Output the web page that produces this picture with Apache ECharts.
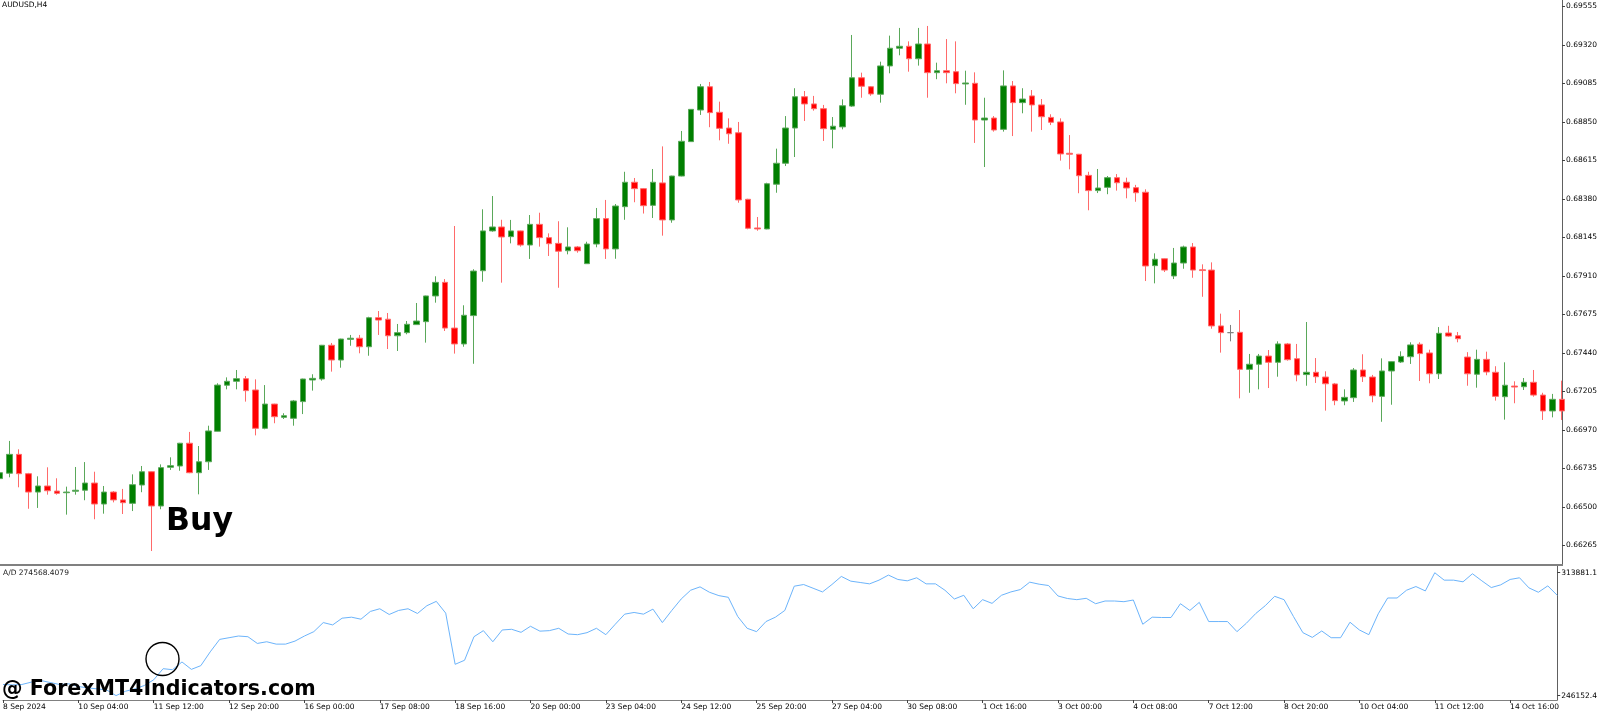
<!DOCTYPE html>
<html>
<head>
<meta charset="utf-8">
<script src="https://cdn.jsdelivr.net/npm/echarts@6/dist/echarts.min.js"></script>
<style>
  html, body { margin: 0; padding: 0; background: #ffffff; }
  #chart { width: 1600px; height: 712px; }
</style>
</head>
<body>
<div id="chart"></div>
<script>
// ---------- DATA (AUDUSD, H4) ----------
const tickLabels = ['8 Sep 2024','10 Sep 04:00','11 Sep 12:00','12 Sep 20:00','16 Sep 00:00','17 Sep 08:00','18 Sep 16:00','20 Sep 00:00','23 Sep 04:00','24 Sep 12:00','25 Sep 20:00','27 Sep 04:00','30 Sep 08:00','1 Oct 16:00','3 Oct 00:00','4 Oct 08:00','7 Oct 12:00','8 Oct 20:00','10 Oct 04:00','11 Oct 12:00','14 Oct 16:00'];

const priceTicks = [0.66265,0.66500,0.66735,0.66970,0.67205,0.67440,0.67675,0.67910,0.68145,0.68380,0.68615,0.68850,0.69085,0.69320,0.69555];
const adTicks = [246152.4, 313881.1];

const opens = [
0.66672,0.66705,0.66820,0.66702,0.66590,0.66627,0.66596,0.66586,0.66595,0.66601,
0.66645,0.66517,0.66590,0.66542,0.66521,0.66633,0.66714,0.66505,0.66741,0.66749,
0.66888,0.66708,0.66775,0.66961,0.67242,0.67266,0.67282,0.67213,0.66979,0.67127,
0.67046,0.67040,0.67142,0.67274,0.67280,0.67486,0.67396,0.67522,0.67529,0.67477,
0.67654,0.67645,0.67544,0.67563,0.67612,0.67630,0.67787,0.67870,0.67591,0.67494,
0.67667,0.67941,0.68184,0.68208,0.68149,0.68184,0.68098,0.68224,0.68143,0.68108,
0.68063,0.68086,0.67984,0.68104,0.68259,0.68074,0.68332,0.68481,0.68442,0.68340,
0.68477,0.68251,0.68519,0.68729,0.68922,0.69064,0.68908,0.68812,0.68783,0.68377,
0.68202,0.68196,0.68469,0.68597,0.68812,0.69003,0.68959,0.68930,0.68804,0.68819,
0.68946,0.69119,0.69064,0.69018,0.69191,0.69299,0.69311,0.69235,0.69325,0.69150,
0.69162,0.69156,0.69081,0.69085,0.68861,0.68873,0.68804,0.69069,0.68967,0.69008,
0.68953,0.68877,0.68849,0.68658,0.68652,0.68523,0.68430,0.68450,0.68509,0.68481,
0.68448,0.68420,0.67972,0.68014,0.67909,0.67988,0.68086,0.67947,0.67945,0.67604,
0.67563,0.67565,0.67339,0.67370,0.67420,0.67382,0.67494,0.67404,0.67307,0.67321,
0.67292,0.67250,0.67146,0.67166,0.67335,0.67292,0.67174,0.67329,0.67384,0.67416,
0.67492,0.67439,0.67312,0.67561,0.67544,0.67414,0.67309,0.67400,0.67321,0.67172,
0.67237,0.67233,0.67260,0.67182,0.67085,0.67156];

const closes = [
0.66708,0.66820,0.66702,0.66590,0.66627,0.66598,0.66582,0.66590,0.66601,0.66645,
0.66517,0.66590,0.66542,0.66525,0.66635,0.66714,0.66505,0.66739,0.66751,0.66888,
0.66708,0.66775,0.66963,0.67243,0.67266,0.67282,0.67209,0.66979,0.67127,0.67050,
0.67056,0.67146,0.67280,0.67284,0.67486,0.67396,0.67524,0.67529,0.67477,0.67654,
0.67640,0.67544,0.67563,0.67614,0.67634,0.67787,0.67870,0.67591,0.67494,0.67669,
0.67939,0.68184,0.68208,0.68147,0.68184,0.68098,0.68224,0.68143,0.68106,0.68060,
0.68086,0.68063,0.68104,0.68259,0.68074,0.68336,0.68481,0.68442,0.68338,0.68481,
0.68251,0.68519,0.68731,0.68926,0.69064,0.68906,0.68810,0.68777,0.68373,0.68200,
0.68196,0.68472,0.68597,0.68812,0.69003,0.68959,0.68930,0.68808,0.68823,0.68948,
0.69119,0.69067,0.69020,0.69191,0.69299,0.69311,0.69235,0.69325,0.69150,0.69162,
0.69150,0.69083,0.69087,0.68861,0.68873,0.68800,0.69069,0.68967,0.68989,0.68953,
0.68881,0.68847,0.68654,0.68652,0.68521,0.68430,0.68446,0.68509,0.68478,0.68446,
0.68417,0.67970,0.68011,0.67945,0.67988,0.68086,0.67945,0.67942,0.67604,0.67563,
0.67563,0.67339,0.67370,0.67420,0.67382,0.67494,0.67398,0.67305,0.67321,0.67294,
0.67251,0.67148,0.67168,0.67335,0.67294,0.67178,0.67329,0.67386,0.67418,0.67488,
0.67435,0.67312,0.67559,0.67542,0.67526,0.67312,0.67400,0.67323,0.67174,0.67242,
0.67231,0.67260,0.67182,0.67085,0.67156,0.67085];

const lows = [
0.66664,0.66680,0.66619,0.66488,0.66493,0.66574,0.66574,0.66452,0.66574,0.66540,
0.66424,0.66458,0.66527,0.66456,0.66474,0.66589,0.66230,0.66485,0.66725,0.66720,
0.66705,0.66576,0.66725,0.66960,0.67217,0.67217,0.67142,0.66936,0.66973,0.67010,
0.67036,0.66995,0.67066,0.67209,0.67270,0.67325,0.67349,0.67483,0.67437,0.67422,
0.67549,0.67463,0.67451,0.67553,0.67610,0.67502,0.67746,0.67573,0.67435,0.67477,
0.67373,0.67874,0.68179,0.67868,0.68108,0.68088,0.68013,0.68088,0.68031,0.67837,
0.68041,0.68051,0.67982,0.68084,0.68013,0.68014,0.68252,0.68359,0.68290,0.68263,
0.68155,0.68234,0.68517,0.68727,0.68892,0.68817,0.68737,0.68716,0.68356,0.68194,
0.68185,0.68194,0.68417,0.68580,0.68635,0.68855,0.68918,0.68733,0.68688,0.68804,
0.68941,0.68997,0.69009,0.68967,0.69146,0.69256,0.69156,0.69193,0.68997,0.69110,
0.69085,0.69024,0.68954,0.68721,0.68574,0.68790,0.68790,0.68763,0.68902,0.68790,
0.68800,0.68830,0.68613,0.68560,0.68414,0.68310,0.68415,0.68408,0.68430,0.68383,
0.68362,0.67878,0.67864,0.67933,0.67890,0.67953,0.67898,0.67782,0.67587,0.67441,
0.67510,0.67162,0.67196,0.67217,0.67225,0.67294,0.67392,0.67266,0.67239,0.67256,
0.67087,0.67120,0.67120,0.67140,0.67262,0.67138,0.67019,0.67123,0.67378,0.67372,
0.67268,0.67254,0.67280,0.67538,0.67504,0.67239,0.67227,0.67303,0.67148,0.67032,
0.67132,0.67213,0.67172,0.67030,0.67046,0.67030];

const highs = [
0.66749,0.66902,0.66851,0.66707,0.66686,0.66741,0.66674,0.66623,0.66743,0.66773,
0.66714,0.66627,0.66596,0.66609,0.66698,0.66749,0.66716,0.66759,0.66802,0.66890,
0.66957,0.66871,0.66995,0.67254,0.67290,0.67335,0.67298,0.67278,0.67243,0.67129,
0.67071,0.67152,0.67282,0.67309,0.67488,0.67500,0.67526,0.67549,0.67549,0.67660,
0.67695,0.67683,0.67616,0.67634,0.67744,0.67789,0.67907,0.67890,0.68214,0.67730,
0.67950,0.68316,0.68397,0.68252,0.68251,0.68186,0.68281,0.68295,0.68169,0.68243,
0.68206,0.68092,0.68118,0.68324,0.68373,0.68348,0.68545,0.68507,0.68446,0.68562,
0.68700,0.68521,0.68794,0.68928,0.69081,0.69093,0.68973,0.68871,0.68849,0.68380,
0.68269,0.68478,0.68686,0.68885,0.69055,0.69038,0.69008,0.68953,0.68879,0.68987,
0.69380,0.69150,0.69068,0.69217,0.69376,0.69423,0.69341,0.69423,0.69435,0.69211,
0.69355,0.69341,0.69162,0.69152,0.68997,0.68885,0.69164,0.69099,0.69055,0.69044,
0.68989,0.68896,0.68871,0.68769,0.68654,0.68545,0.68562,0.68519,0.68531,0.68509,
0.68465,0.68438,0.68047,0.68016,0.68080,0.68094,0.68110,0.67980,0.67992,0.67679,
0.67610,0.67701,0.67433,0.67433,0.67457,0.67510,0.67500,0.67494,0.67628,0.67408,
0.67327,0.67256,0.67217,0.67347,0.67431,0.67305,0.67406,0.67388,0.67449,0.67504,
0.67504,0.67459,0.67597,0.67605,0.67567,0.67444,0.67459,0.67447,0.67358,0.67382,
0.67266,0.67286,0.67335,0.67196,0.67189,0.67270];

const adValues = [
252275.9,252090.3,252275.9,253574.8,254502.6,253389.2,252275.9,252647.0,251162.5,250420.3,
249863.6,249306.9,246152.4,248564.7,249863.6,251719.2,254873.7,260997.2,260440.5,264708.4,
260626.1,262667.2,270275.2,277140.9,278068.7,278996.5,278625.4,274914.2,275842.0,274543.1,
274543.1,276213.1,278996.5,281408.8,286418.9,285120.0,288831.2,289387.9,288274.5,292542.4,
294026.9,290872.4,293099.1,294026.9,291429.0,295696.9,298109.2,291614.6,263409.5,265636.2,
278625.4,281965.5,275842.0,282336.6,282707.7,281037.7,284377.8,281687.1,281965.5,283264.4,
280109.9,279738.8,280852.1,283264.4,279738.8,285491.1,291057.9,291985.7,291057.9,293841.3,
286418.9,293099.1,299408.1,304232.7,306088.3,303119.3,301263.7,300335.9,289759.0,283264.4,
281408.8,286975.6,289387.9,293099.1,306459.4,307387.2,305346.0,303304.9,307387.2,311840.6,
309242.8,308500.6,307758.3,309799.5,312582.9,310170.6,309428.4,311098.4,307758.3,307758.3,
304232.7,299408.1,301449.3,294026.9,299037.0,296995.8,301449.3,303304.9,304603.8,308686.1,
307572.8,306830.5,301078.2,299686.5,299037.0,299779.2,296810.3,298294.8,298294.8,297923.6,
298851.4,285491.1,289387.9,289202.3,289202.3,296810.3,293099.1,297552.5,286975.6,286975.6,
286975.6,281408.8,286047.8,291429.0,295696.9,300892.6,299037.0,289759.0,280852.1,278254.3,
281779.9,278068.7,278068.7,286604.5,282336.6,279738.8,291243.5,299964.8,299964.8,304232.7,
306273.8,303861.6,313881.1,309799.5,309799.5,308871.7,313325.1,309428.4,305717.2,307201.6,
310170.6,311098.4,305531.6,303119.3,306645.0,301449.3];

// ---------- BUILD ----------
const categories = opens.map((_, i) => (i % 8 === 0 ? tickLabels[i / 8] : 'bar' + i));
const candleData = opens.map((o, i) => [o, closes[i], lows[i], highs[i]]);

const FONT = 'DejaVu Sans';
const chart = echarts.init(document.getElementById('chart'), null, { renderer: 'canvas' });

chart.setOption({
  animation: false,
  backgroundColor: '#ffffff',
  grid: [
    { left: 0, right: 37, top: 0, height: 564 },
    { left: 0, right: 37, top: 566, height: 134 }
  ],
  xAxis: [
    { type: 'category', gridIndex: 0, data: categories, boundaryGap: false, show: false },
    {
      type: 'category', gridIndex: 1, data: categories, boundaryGap: false,
      axisLine: { show: true, lineStyle: { color: '#808080', width: 1 } },
      axisTick: { show: true, interval: 7, length: 3, lineStyle: { color: '#404040' } },
      axisLabel: {
        interval: 7, align: 'left', margin: 3, color: '#000000',
        fontFamily: FONT, fontSize: 7.5,
        formatter: (v, i) => (i % 8 === 0 ? tickLabels[i / 8] : '')
      },
      splitLine: { show: false }
    }
  ],
  yAxis: [
    {
      type: 'value', gridIndex: 0, position: 'right',
      min: 0.661508, max: 0.695935,
      splitLine: { show: false },
      axisLine: { show: true, lineStyle: { color: '#606060', width: 1 } },
      axisTick: { show: true, length: 3, customValues: priceTicks, lineStyle: { color: '#404040' } },
      axisLabel: {
        customValues: priceTicks, margin: 4, color: '#000000',
        fontFamily: FONT, fontSize: 7.5,
        formatter: v => Number(v).toFixed(5)
      }
    },
    {
      type: 'value', gridIndex: 1, position: 'right',
      min: 243740, max: 317593,
      splitLine: { show: false },
      axisLine: { show: true, lineStyle: { color: '#606060', width: 1 } },
      axisTick: { show: true, length: 3, customValues: adTicks, lineStyle: { color: '#404040' } },
      axisLabel: {
        customValues: adTicks, margin: 4, color: '#000000',
        fontFamily: FONT, fontSize: 7.5,
        formatter: v => Number(v).toFixed(1)
      }
    }
  ],
  series: [
    {
      type: 'candlestick', xAxisIndex: 0, yAxisIndex: 0,
      data: candleData, barWidth: 6, clip: true,
      itemStyle: {
        color: '#007f00', color0: '#ff0000',
        borderColor: '#5aa85a', borderColor0: '#ff6a6a',
        borderColorDoji: '#808080', borderWidth: 1
      }
    },
    {
      type: 'line', xAxisIndex: 1, yAxisIndex: 1,
      data: adValues, symbol: 'none', clip: true,
      lineStyle: { color: '#6cb4fb', width: 1 }
    }
  ],
  graphic: [
    { type: 'line', shape: { x1: 0, y1: 565, x2: 1563, y2: 565 }, style: { stroke: '#808080', lineWidth: 2 }, z: 10 },
    { type: 'text', left: 2, top: 1, style: { text: 'AUDUSD,H4', font: '7.5px "DejaVu Sans"', fill: '#000000' }, z: 20 },
    { type: 'text', left: 3, top: 569, style: { text: 'A/D 274568.4079', font: '7.5px "DejaVu Sans"', fill: '#202020' }, z: 20 },
    { type: 'text', x: 166, y: 522, style: { text: 'Buy', font: 'bold 31.5px "DejaVu Sans"', fill: '#000000', verticalAlign: 'middle', align: 'left' }, z: 20 },
    { type: 'circle', shape: { cx: 162.5, cy: 659, r: 16.5 }, style: { fill: 'none', stroke: '#000000', lineWidth: 1.4 }, z: 20 },
    { type: 'text', x: 2, y: 690, style: { text: '@ ForexMT4Indicators.com', font: 'bold 20.6px "DejaVu Sans"', fill: '#000000', verticalAlign: 'middle', align: 'left' }, z: 20 }
  ]
});
</script>
</body>
</html>
